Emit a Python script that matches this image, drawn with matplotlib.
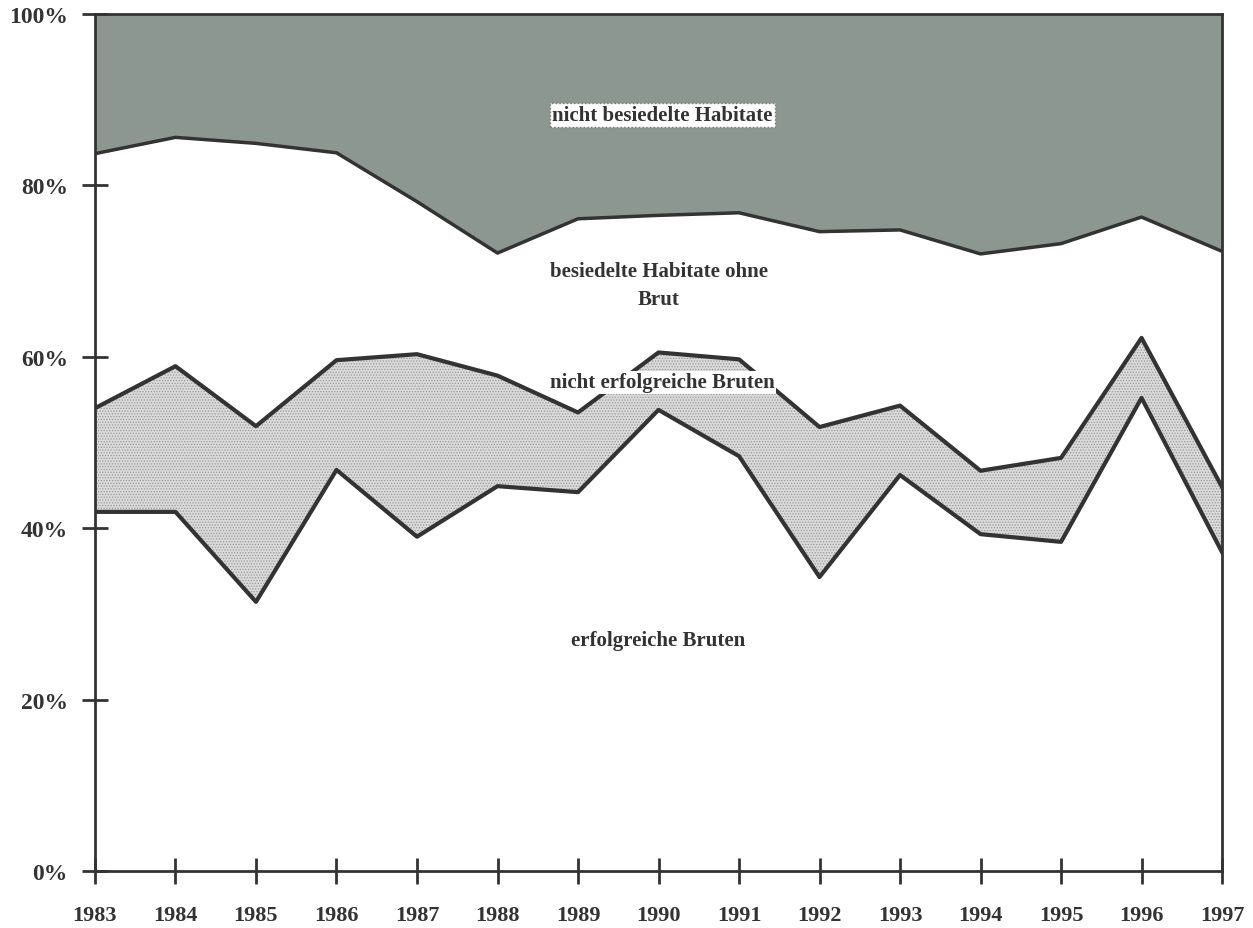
import matplotlib.pyplot as plt
import numpy as np

# Jahre und obere Grenzen der gestapelten Flächen (in %)
years = np.arange(1983, 1998)
erfolgreich = [41.9, 41.9, 31.4, 46.8, 39.0, 44.9, 44.2, 53.8, 48.4, 34.3,
               46.2, 39.3, 38.4, 55.2, 37.2]
nicht_erfolgreich = [54.0, 58.9, 51.9, 59.6, 60.3, 57.8, 53.5, 60.5, 59.7, 51.8,
                     54.3, 46.7, 48.2, 62.2, 44.8]
besiedelt = [83.7, 85.6, 84.9, 83.8, 78.1, 72.1, 76.1, 76.5, 76.8, 74.6,
             74.8, 72.0, 73.2, 76.3, 72.3]
yticks = [0, 20, 40, 60, 80, 100]

ink = "#333333"
plt.rcParams["hatch.color"] = "#9a9a9a"
plt.rcParams["hatch.linewidth"] = 0.6

fig = plt.figure(figsize=(12.53, 9.29), dpi=100)
ax = fig.add_axes([0.0758, 0.0614, 0.8995, 0.9225])

# Flächen
ax.fill_between(years, besiedelt, 100, facecolor="#8d9792", linewidth=0)
ax.fill_between(years, erfolgreich, nicht_erfolgreich, facecolor="#dadada",
                hatch="......", linewidth=0)

# Grenzlinien
ax.plot(years, besiedelt, color=ink, lw=2.5)
ax.plot(years, nicht_erfolgreich, color=ink, lw=3)
ax.plot(years, erfolgreich, color=ink, lw=3)

ax.set_xlim(1983, 1997)
ax.set_ylim(0, 100)
ax.set_xticks(years)
ax.set_yticks(yticks)
ax.set_yticklabels([f"{v}%" for v in yticks])

for s in ax.spines.values():
    s.set_linewidth(2)
    s.set_color(ink)

ax.tick_params(direction="inout", length=19, width=2, color=ink)
ax.tick_params(axis="x", pad=15)
ax.tick_params(axis="y", pad=10)
for lab in ax.get_xticklabels():
    lab.set_fontfamily("Liberation Serif")
    lab.set_fontweight("bold")
    lab.set_fontsize(16)
    lab.set_color(ink)
for lab in ax.get_yticklabels():
    lab.set_fontfamily("Liberation Serif")
    lab.set_fontweight("bold")
    lab.set_fontsize(17)
    lab.set_color(ink)

font = dict(family="Liberation Serif", weight="bold", size=15, color=ink,
            ha="center", va="center")
ax.text(1990.05, 88.2, "nicht besiedelte Habitate",
        bbox=dict(facecolor="white", edgecolor="#777777", linestyle=":",
                  linewidth=1, pad=1.5), **font)
ax.text(1990.0, 68.4, "besiedelte Habitate ohne\nBrut", linespacing=1.55, **font)
ax.text(1990.05, 57.0, "nicht erfolgreiche Bruten",
        bbox=dict(facecolor="white", edgecolor="none", pad=1.0), **font)
ax.text(1990.0, 27.0, "erfolgreiche Bruten", **font)

fig.savefig("out.png", dpi=100)
